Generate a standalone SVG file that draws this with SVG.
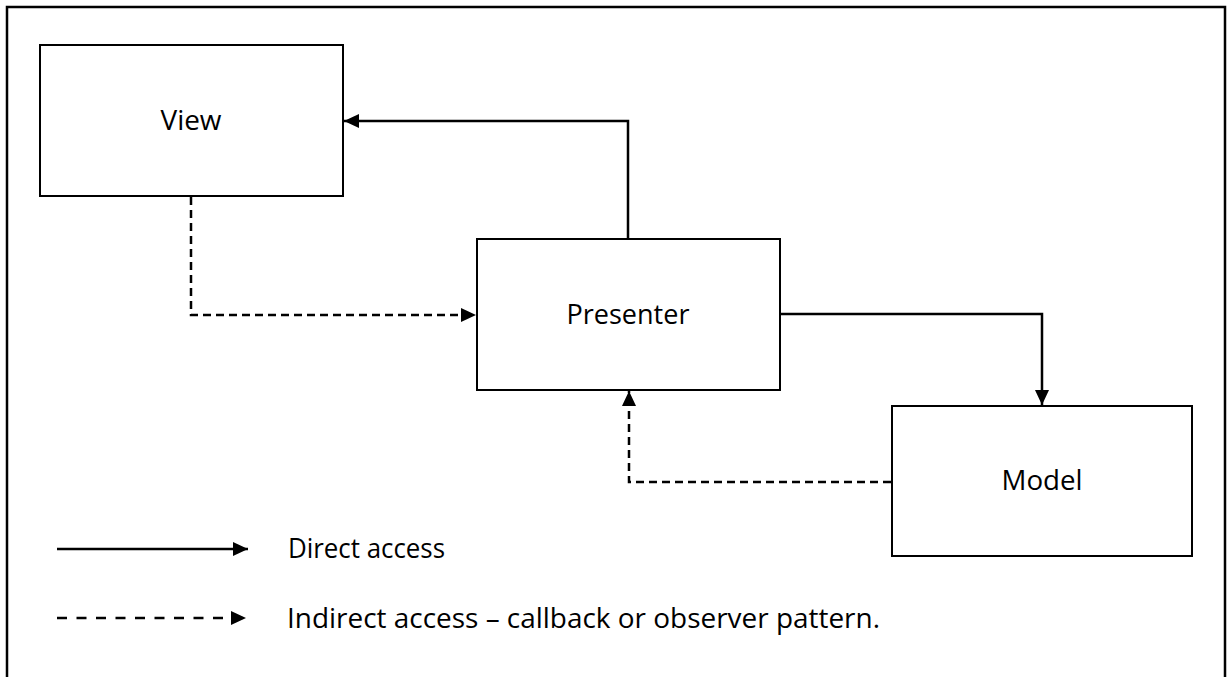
<svg xmlns="http://www.w3.org/2000/svg" width="1227" height="677" viewBox="0 0 1227 677">
  <style>
    .box { fill: #ffffff; stroke: #000000; stroke-width: 2; }
    .lbl { font-family: "Open Sans", "Liberation Sans", sans-serif; font-size: 27px; fill: #000000; }
    .solid { fill: none; stroke: #000000; stroke-width: 2.5; }
    .dash { fill: none; stroke: #000000; stroke-width: 2.5; stroke-dasharray: 8 5; }
    .dash-key { fill: none; stroke: #000000; stroke-width: 2.5; stroke-dasharray: 10 9.5; }
  </style>
  <defs>
    <marker id="head" viewBox="0 0 15 14" refX="15" refY="7" markerWidth="15" markerHeight="14" markerUnits="userSpaceOnUse" orient="auto">
      <path d="M0,0 L15,7 L0,14 Z" fill="#000000"/>
    </marker>
  </defs>

  <rect width="1227" height="677" fill="#ffffff"/>
  <!-- frame -->
  <path d="M7,677 V7 H1225 V677" fill="none" stroke="#000000" stroke-width="2.5"/>

  <g id="view">
    <rect class="box" x="40" y="45" width="303" height="151"/>
    <text class="lbl" x="191" y="130" text-anchor="middle" textLength="61" lengthAdjust="spacingAndGlyphs">View</text>
  </g>

  <g id="presenter">
    <rect class="box" x="477" y="239" width="303" height="151"/>
    <text class="lbl" x="628" y="324" text-anchor="middle" textLength="123" lengthAdjust="spacingAndGlyphs">Presenter</text>
  </g>

  <g id="model">
    <rect class="box" x="892" y="406" width="300" height="150"/>
    <text class="lbl" x="1042" y="490" text-anchor="middle" textLength="81" lengthAdjust="spacingAndGlyphs">Model</text>
  </g>

  <g id="connectors">
    <!-- presenter updates view -->
    <path class="solid" d="M628,239 V121 H344" marker-end="url(#head)"/>
    <!-- view notifies presenter -->
    <path class="dash" d="M191,197 V315 H476" marker-end="url(#head)"/>
    <!-- presenter calls model -->
    <path class="solid" d="M781,314 H1042 V405" marker-end="url(#head)"/>
    <!-- model notifies presenter -->
    <path class="dash" d="M891,482 H629 V391" marker-end="url(#head)"/>
  </g>

  <g id="legend">
    <path class="solid" d="M57,549 H248" marker-end="url(#head)"/>
    <text class="lbl" x="288" y="558" textLength="157" lengthAdjust="spacingAndGlyphs">Direct access</text>
    <path class="dash-key" d="M57,618 H246" marker-end="url(#head)"/>
    <text class="lbl" x="287" y="628" textLength="593" lengthAdjust="spacingAndGlyphs">Indirect access – callback or observer pattern.</text>
  </g>
</svg>
